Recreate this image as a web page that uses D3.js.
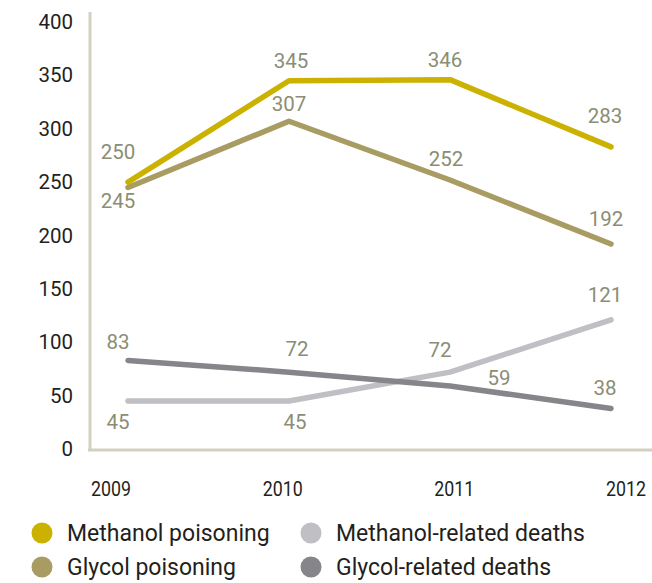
<!DOCTYPE html>
<html>
<head>
<meta charset="utf-8">
<script src="https://cdn.jsdelivr.net/npm/d3@7"></script>
<style>
  html, body { margin: 0; padding: 0; background: #fff; }
  svg { display: block; font-family: Roboto, "DejaVu Sans", sans-serif; }
</style>
</head>
<body>
<svg id="chart" width="652" height="583"></svg>
<script>
// Years on the x axis
const years = ["2009", "2010", "2011", "2012"];
// Y axis tick values
const yTicks = [0, 50, 100, 150, 200, 250, 300, 350, 400];

// Series values
const methanolPoisoning = [250, 345, 346, 283];
const glycolPoisoning   = [245, 307, 252, 192];
const methanolDeaths    = [45, 45, 72, 121];
const glycolDeaths      = [83, 72, 59, 38];

const seriesNames = ["Methanol poisoning", "Glycol poisoning", "Methanol-related deaths", "Glycol-related deaths"];

// Drawing styles
const colors = {
  "Methanol poisoning": "#cbb100",
  "Glycol poisoning": "#a89c62",
  "Methanol-related deaths": "#bfbfc4",
  "Glycol-related deaths": "#85858a"
};

// Value label offsets (dx, dy) from each point
const labelOffsets = {
  "Methanol poisoning":      [[-10, -30], [2, -20], [-5, -20], [-6, -31]],
  "Glycol poisoning":        [[-10, 14], [0, -17], [-4, -21], [-5, -25]],
  "Methanol-related deaths": [[-10, 21], [6, 21], [-10, -22], [-6, -25]],
  "Glycol-related deaths":   [[-10, -18], [8, -23], [49, -8], [-6, -20]]
};

const data = [
  { name: seriesNames[0], values: methanolPoisoning },
  { name: seriesNames[1], values: glycolPoisoning },
  { name: seriesNames[2], values: methanolDeaths },
  { name: seriesNames[3], values: glycolDeaths }
];

const svg = d3.select("#chart");

const x = d3.scalePoint().domain(years).range([128, 611]);
const xLabel = d3.scalePoint().domain(years).range([111, 626]);
const y = d3.scaleLinear().domain([0, 400]).range([449, 22]);

// Axis lines
svg.append("line")
  .attr("x1", 90).attr("x2", 90).attr("y1", 12).attr("y2", 451)
  .attr("stroke", "#d3d0c1").attr("stroke-width", 3);
svg.append("line")
  .attr("x1", 88).attr("x2", 652).attr("y1", y(0) + 1).attr("y2", y(0) + 1)
  .attr("stroke", "#d3d0c1").attr("stroke-width", 3);

// Y tick labels
svg.append("g").selectAll("text").data(yTicks).join("text")
  .attr("x", 73).attr("y", d => y(d))
  .attr("text-anchor", "end").attr("dominant-baseline", "central")
  .attr("font-size", 20.5).attr("fill", "#231f20")
  .text(d => d);

// X labels (narrow setting)
svg.append("g").selectAll("text").data(years).join("text")
  .attr("x", d => xLabel(d)).attr("y", 489)
  .attr("text-anchor", "middle").attr("dominant-baseline", "central")
  .attr("font-size", 21).attr("fill", "#231f20")
  .attr("textLength", 40).attr("lengthAdjust", "spacingAndGlyphs")
  .text(d => d);

const line = d3.line()
  .x((d, i) => x(years[i]))
  .y(d => y(d));

// Lines (drawn back to front)
const drawOrder = [2, 3, 1, 0];
svg.append("g").selectAll("path").data(drawOrder.map(i => data[i])).join("path")
  .attr("d", d => line(d.values))
  .attr("fill", "none")
  .attr("stroke", d => colors[d.name])
  .attr("stroke-width", 5.5)
  .attr("stroke-linecap", "round")
  .attr("stroke-linejoin", "round");

// Value labels
data.forEach(s => {
  svg.append("g").selectAll("text").data(s.values).join("text")
    .attr("x", (d, i) => x(years[i]) + labelOffsets[s.name][i][0])
    .attr("y", (d, i) => y(d) + labelOffsets[s.name][i][1])
    .attr("text-anchor", "middle").attr("dominant-baseline", "central")
    .attr("font-size", 20.5).attr("fill", "#8b8d74")
    .text(d => d);
});

// Legend
const legendPos = [[42, 533], [42, 567], [311, 533], [311, 567]];
const legend = svg.append("g").selectAll("g").data(seriesNames).join("g")
  .attr("transform", (d, i) => `translate(${legendPos[i][0]},${legendPos[i][1]})`);
legend.append("circle").attr("r", 10.5).attr("fill", d => colors[d]);
legend.append("text")
  .attr("x", 25).attr("y", 0)
  .attr("dominant-baseline", "central")
  .attr("font-size", 23).attr("fill", "#231f20")
  .text(d => d);
</script>
</body>
</html>
